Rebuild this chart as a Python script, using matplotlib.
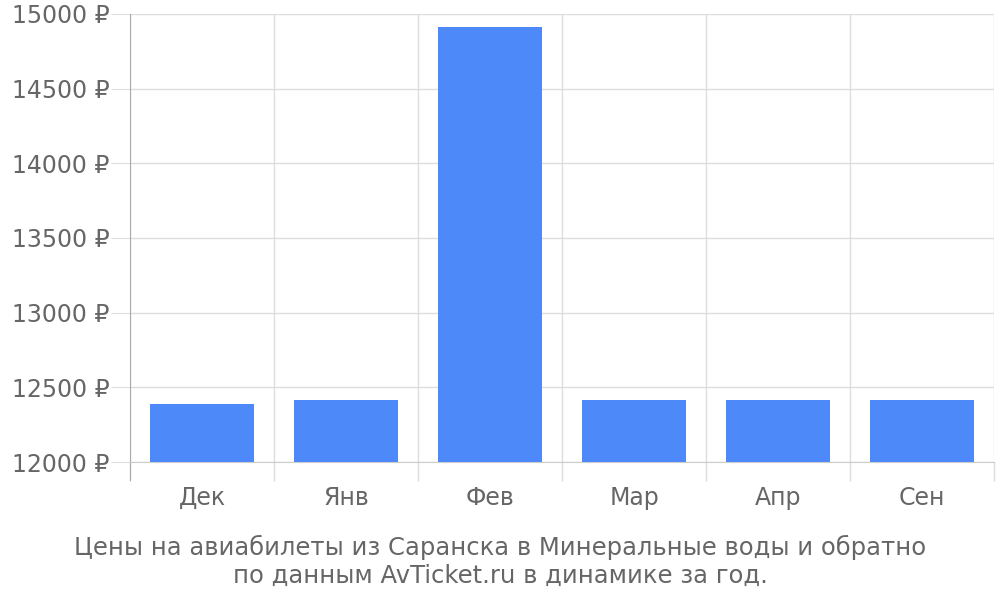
import matplotlib
matplotlib.use("Agg")
import matplotlib.pyplot as plt
import numpy as np

categories = ["Дек", "Янв", "Фев", "Мар", "Апр", "Сен"]
prices = [12390, 12412, 14913, 12412, 12412, 12412]
yticks = [12000, 12500, 13000, 13500, 14000, 14500, 15000]
caption = ("Цены на авиабилеты из Саранска в Минеральные воды и обратно\n"
           "по данным AvTicket.ru в динамике за год.")

plt.rcParams['font.family'] = ['DejaVu Sans']
fig = plt.figure(figsize=(10, 6), dpi=100)
ax = fig.add_axes([0.13, 0.23, 0.864, 0.747])

x = np.arange(len(categories))
ax.bar(x, prices, width=0.72, color="#4d89f9", zorder=3)

ax.set_xlim(-0.5, len(categories) - 0.5)
ax.set_ylim(12000, 15000)

ax.set_yticks(yticks)
ax.set_yticklabels([f"{v} ₽" for v in yticks])
ax.set_xticks(x)
ax.set_xticklabels(categories)
ax.set_xticks(np.arange(-0.5, len(categories), 1.0), minor=True)

gc = "#dddddd"
ax.grid(axis="y", which="major", color=gc, linewidth=1, zorder=0)
ax.grid(axis="x", which="minor", color=gc, linewidth=1, zorder=0)
ax.tick_params(axis="y", which="major", length=14, color=gc, pad=1,
               labelsize=17, labelcolor="#666666")
ax.tick_params(axis="x", which="major", length=0, pad=17,
               labelsize=17, labelcolor="#666666")
ax.tick_params(axis="x", which="minor", length=14, color=gc, width=1)

for s in ["top", "right"]:
    ax.spines[s].set_visible(False)
ax.spines["left"].set_color("#aaaaaa")
ax.spines["bottom"].set_color("#cccccc")
ax.spines["left"].set_bounds(12000 - 3000 * 18 / 447, 15000)

fig.text(0.5, 0.064, caption, ha="center", va="center", fontsize=17.5,
         color="#666666", linespacing=1.2)

fig.savefig("out.png", dpi=100)
